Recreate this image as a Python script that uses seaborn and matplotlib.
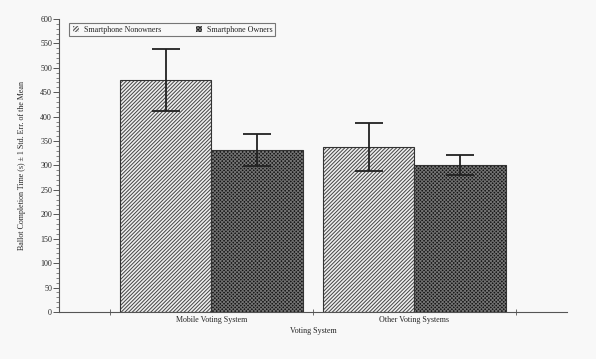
import matplotlib
matplotlib.use('Agg')
import matplotlib.pyplot as plt
import seaborn as sns
import pandas as pd
import numpy as np
from matplotlib.ticker import MultipleLocator, FixedLocator

systems = ['Mobile Voting System', 'Other Voting Systems']
groups = ['Smartphone Nonowners', 'Smartphone Owners']
nonowner_means = [475, 338]
owner_means = [332, 301]
nonowner_se = [63, 50]
owner_se = [33, 21]

df = pd.DataFrame({
    'system': systems * 2,
    'group': [groups[0]] * 2 + [groups[1]] * 2,
    'time': nonowner_means + owner_means,
    'se': nonowner_se + owner_se,
})

sns.set_style('white')
plt.rcParams['font.family'] = ['Liberation Serif', 'DejaVu Serif']
plt.rcParams['hatch.linewidth'] = 0.7

bg = '#f8f8f8'
fig = plt.figure(figsize=(5.96, 3.59), dpi=100, facecolor=bg)
ax = fig.add_axes([0.099, 0.131, 0.852, 0.816])
ax.set_facecolor(bg)

sns.barplot(data=df, x='system', y='time', hue='group', order=systems,
            hue_order=groups, width=0.9, errorbar=None, ax=ax,
            palette=['white', '#3a3a3a'], edgecolor='#333333', linewidth=0.8)

# fill styles: light diagonal stripes vs dark checker
styles = [('#eeeeee', '#444444', '/' * 9), ('#151515', '#727272', 'x' * 9)]
for container, (fc, hc, h) in zip(ax.containers, styles):
    for bar in container:
        bar.set_facecolor(fc)
        bar.set_hatch(h)
        bar._hatch_color = matplotlib.colors.to_rgba(hc)

# error bars at bar centers
for container, g in zip(ax.containers, groups):
    sub = df[df['group'] == g].set_index('system').loc[systems]
    xs = [b.get_x() + b.get_width() / 2 for b in container]
    ax.errorbar(xs, sub['time'], yerr=sub['se'], fmt='none', ecolor='#222222',
                elinewidth=1.3, capsize=10, capthick=1.3)

ax.set_xlim(-0.75, 1.75)
ax.set_ylim(0, 600)
ax.yaxis.set_major_locator(MultipleLocator(50))
ax.yaxis.set_minor_locator(MultipleLocator(10))
ax.xaxis.set_minor_locator(FixedLocator([-0.5, 0.5, 1.5]))

for s in ['top', 'right']:
    ax.spines[s].set_visible(False)
for s in ['left', 'bottom']:
    ax.spines[s].set_color('#555555')
    ax.spines[s].set_linewidth(0.8)

ax.tick_params(axis='y', which='major', length=4, width=0.7, color='#555555',
               labelsize=5.8, left=True, pad=1)
ax.tick_params(axis='y', which='minor', length=2, width=0.5, color='#555555', left=True)
ax.tick_params(axis='x', which='major', length=0, labelsize=5.8, pad=3)
ax.tick_params(axis='x', which='minor', length=5, width=0.6, color='#555555',
               direction='inout', bottom=True)

ax.set_xlabel('Voting System', fontsize=5.8, labelpad=2)
ax.set_ylabel('Ballot Completion Time (s) \u00b1 1 Std. Err. of the Mean', fontsize=5.8, labelpad=10)

leg = ax.legend(loc='upper left', ncol=2, fontsize=5.8, frameon=True, fancybox=False,
                edgecolor='#555555', bbox_to_anchor=(0.012, 1.0), handlelength=0.9,
                handleheight=0.9, columnspacing=4.2, borderpad=0.3, handletextpad=0.6)
leg.get_frame().set_linewidth(0.8)
leg.get_frame().set_facecolor(bg)
for handle, (fc, hc, h) in zip(leg.legend_handles, styles):
    handle.set_edgecolor(bg)
    handle.set_facecolor(fc)
    handle.set_hatch(h)
    handle._hatch_color = matplotlib.colors.to_rgba(hc)

fig.savefig('out.png', dpi=100, facecolor=bg)
